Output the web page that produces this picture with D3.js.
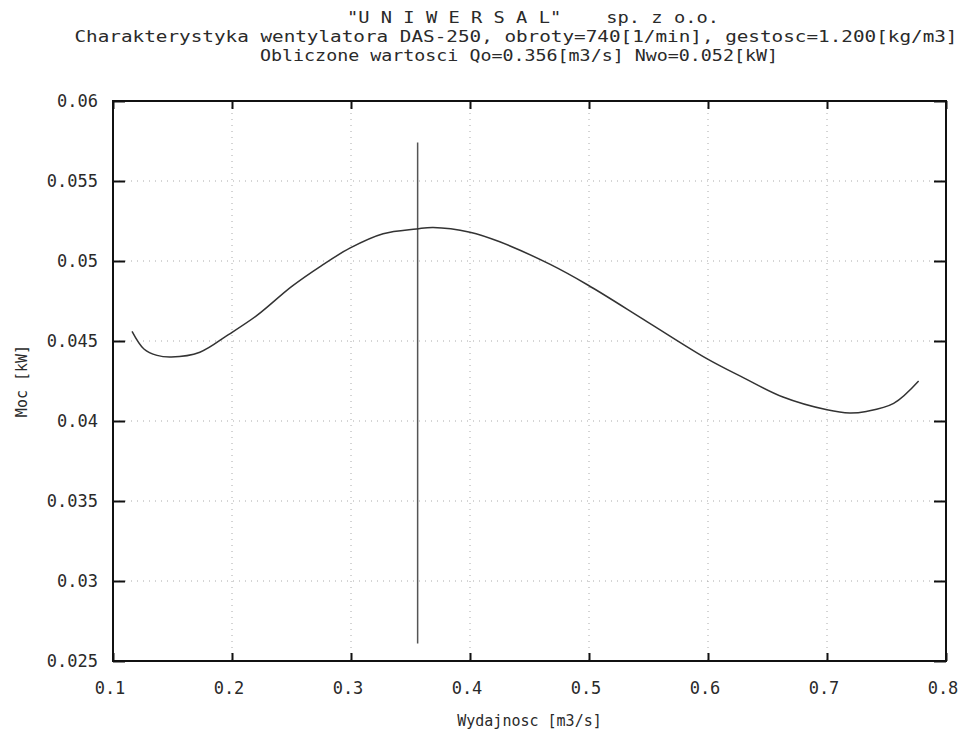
<!DOCTYPE html>
<html>
<head>
<meta charset="utf-8">
<script src="https://cdn.jsdelivr.net/npm/d3@7"></script>
<style>
  body { margin: 0; background: #fff; }
  text { font-family: "DejaVu Sans Mono", "Liberation Mono", monospace; fill: #2a2a2a; }
</style>
</head>
<body>
<script>
// wydajnosc [m3/s] vs moc [kW]
const flow  = [0.116, 0.126, 0.137, 0.149, 0.173, 0.197, 0.221, 0.250, 0.275, 0.299, 0.327, 0.355, 0.369, 0.400, 0.425, 0.467, 0.499, 0.549, 0.599, 0.630, 0.663, 0.700, 0.719, 0.733, 0.756, 0.777];
const power = [0.0456, 0.0445, 0.0441, 0.0440, 0.0443, 0.0454, 0.0466, 0.0484, 0.0497, 0.0508, 0.0517, 0.0520, 0.0521, 0.0518, 0.0512, 0.0498, 0.0485, 0.0462, 0.0439, 0.0427, 0.0415, 0.0407, 0.0405, 0.0406, 0.0411, 0.0425];

const xTicks = [0.1, 0.2, 0.3, 0.4, 0.5, 0.6, 0.7, 0.8];
const yTicks = [0.025, 0.03, 0.035, 0.04, 0.045, 0.05, 0.055, 0.06];

// working point marker
const workFlow = [0.356];
const workRange = [0.0261, 0.0574];

const titles = [
  '"U N I W E R S A L"    sp. z o.o.',
  'Charakterystyka wentylatora DAS-250, obroty=740[1/min], gestosc=1.200[kg/m3]',
  'Obliczone wartosci Qo=0.356[m3/s] Nwo=0.052[kW]'
];

const width = 978, height = 736;
const margin = {top: 101, right: 32, bottom: 75, left: 113};

const svg = d3.select('body').append('svg')
  .attr('width', width)
  .attr('height', height);

const x = d3.scaleLinear().domain([0.1, 0.8]).range([margin.left, width - margin.right]);
const y = d3.scaleLinear().domain([0.025, 0.06]).range([height - margin.bottom, margin.top]);

// grid
svg.append('g').selectAll('line.gx')
  .data(xTicks.slice(1, -1)).enter().append('line')
  .attr('x1', d => x(d)).attr('x2', d => x(d))
  .attr('y1', y.range()[1]).attr('y2', y.range()[0])
  .attr('stroke', '#aaa').attr('stroke-width', 1).attr('stroke-dasharray', '1,5');

svg.append('g').selectAll('line.gy')
  .data(yTicks.slice(1, -1)).enter().append('line')
  .attr('x1', x.range()[0]).attr('x2', x.range()[1])
  .attr('y1', d => y(d)).attr('y2', d => y(d))
  .attr('stroke', '#aaa').attr('stroke-width', 1).attr('stroke-dasharray', '1,5');

// axes with inward ticks
const axL = svg.append('g').attr('transform', 'translate(' + x.range()[0] + ',0)')
  .call(d3.axisRight(y).tickValues(yTicks).tickSize(12).tickFormat(''));
const axR = svg.append('g').attr('transform', 'translate(' + x.range()[1] + ',0)')
  .call(d3.axisLeft(y).tickValues(yTicks).tickSize(12).tickFormat(''));
const axB = svg.append('g').attr('transform', 'translate(0,' + y.range()[0] + ')')
  .call(d3.axisTop(x).tickValues(xTicks).tickSize(8).tickFormat(''));
const axT = svg.append('g').attr('transform', 'translate(0,' + y.range()[1] + ')')
  .call(d3.axisBottom(x).tickValues(xTicks).tickSize(8).tickFormat(''));
[axL, axR, axB, axT].forEach(a => {
  a.select('.domain').remove();
  a.selectAll('line').attr('stroke', '#111').attr('stroke-width', 2);
});

// frame
svg.append('rect')
  .attr('x', x.range()[0]).attr('y', y.range()[1])
  .attr('width', x.range()[1] - x.range()[0])
  .attr('height', y.range()[0] - y.range()[1])
  .attr('fill', 'none').attr('stroke', '#111').attr('stroke-width', 2);

// tick labels
svg.append('g').selectAll('text')
  .data(yTicks).enter().append('text')
  .attr('x', x.range()[0] - 15).attr('y', d => y(d) + 6)
  .attr('text-anchor', 'end').style('font-size', '17px')
  .text(d => String(d));

svg.append('g').selectAll('text')
  .data(xTicks).enter().append('text')
  .attr('x', d => x(d) - 3).attr('y', y.range()[0] + 33)
  .attr('text-anchor', 'middle').style('font-size', '17px')
  .text(d => String(d));

// axis titles
svg.append('text')
  .attr('x', (x.range()[0] + x.range()[1]) / 2).attr('y', 726)
  .attr('text-anchor', 'middle').style('font-size', '15px')
  .text('Wydajnosc [m3/s]');

svg.append('text')
  .attr('transform', 'translate(27,' + ((y.range()[0] + y.range()[1]) / 2) + ') rotate(-90)')
  .attr('text-anchor', 'middle').style('font-size', '15px')
  .text('Moc [kW]');

// titles
const titleX = [533, 516, 519];
const titleLen = [372, 883, 518];
svg.append('g').selectAll('text')
  .data(titles).enter().append('text')
  .attr('x', (d, i) => titleX[i]).attr('y', (d, i) => 23 + i * 19)
  .attr('text-anchor', 'middle').style('font-size', '15px')
  .attr('textLength', (d, i) => titleLen[i])
  .attr('lengthAdjust', 'spacingAndGlyphs')
  .style('white-space', 'pre')
  .text(d => d);

// working point line
svg.append('g').selectAll('line')
  .data(workFlow).enter().append('line')
  .attr('x1', d => x(d)).attr('x2', d => x(d))
  .attr('y1', y(workRange[0])).attr('y2', y(workRange[1]))
  .attr('stroke', '#555').attr('stroke-width', 1.5);

// curve
const pts = flow.map((q, i) => [q, power[i]]);
svg.append('path')
  .datum(pts)
  .attr('fill', 'none').attr('stroke', '#333').attr('stroke-width', 1.5)
  .attr('d', d3.line().x(d => x(d[0])).y(d => y(d[1])).curve(d3.curveCatmullRom.alpha(0.5)));
</script>
</body>
</html>
